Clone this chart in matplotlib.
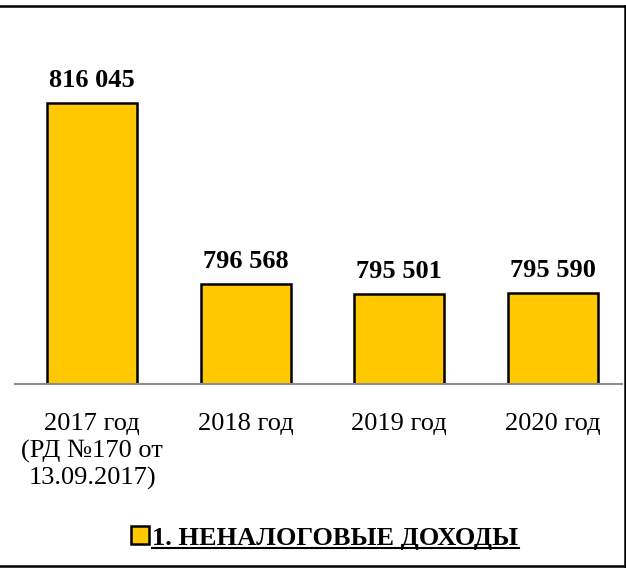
import matplotlib.pyplot as plt
from matplotlib.lines import Line2D

# Данные
categories = ['2017 год\n(РД №170 от\n13.09.2017)', '2018 год', '2019 год', '2020 год']
values = [816045, 796568, 795501, 795590]
value_labels = ['816 045', '796 568', '795 501', '795 590']
series_name = '1. НЕНАЛОГОВЫЕ ДОХОДЫ'

plt.rcParams['font.family'] = ['Liberation Serif', 'DejaVu Serif']

fig = plt.figure(figsize=(6.26, 5.69), dpi=100)
ax = fig.add_axes([15 / 626, 185 / 569, 607 / 626, 364 / 569])

ymin = 785800
x = range(len(values))
bars = ax.bar(x, [v - ymin for v in values], bottom=ymin, width=0.585,
              color='#FFC800', edgecolor='black', linewidth=1.8,
              label=series_name, zorder=2)

ax.set_ylim(ymin, 825000)
ax.set_xlim(-0.501, 3.449)

for xi, v, lab in zip(x, values, value_labels):
    ax.annotate(lab, (xi, v), xytext=(0, 8), textcoords='offset points',
                ha='center', va='bottom', fontsize=19, fontweight='bold')

ax.set_xticks(list(x))
ax.set_xticklabels(categories, fontsize=19, linespacing=1.25)
ax.tick_params(axis='x', length=0, pad=21)
ax.set_yticks([])
for s in ['top', 'right', 'left']:
    ax.spines[s].set_visible(False)
ax.spines['bottom'].set_color('#8c8c8c')
ax.spines['bottom'].set_linewidth(1.5)

leg = fig.legend(handles=[bars], labels=[series_name], loc='center',
                 bbox_to_anchor=(325 / 626, 1 - 538 / 569), frameon=False,
                 handlelength=0.65, handleheight=0.65, handletextpad=0.15,
                 prop={'size': 19, 'weight': 'bold'})

# рамка вокруг рисунка
fig.add_artist(Line2D([0, 624.5 / 626], [1 - 6 / 569, 1 - 6 / 569], color='black', lw=1.8))
fig.add_artist(Line2D([0, 624.5 / 626], [1 - 566 / 569, 1 - 566 / 569], color='black', lw=1.8))
fig.add_artist(Line2D([624.5 / 626, 624.5 / 626], [1 - 6 / 569, 1 - 566 / 569], color='black', lw=1.8))

# подчёркивание текста легенды
fig.canvas.draw()
bb = leg.get_texts()[0].get_window_extent().transformed(fig.transFigure.inverted())
fig.add_artist(Line2D([bb.x0, bb.x1], [bb.y0 + 0.002, bb.y0 + 0.002], color='black', lw=1.5))

plt.savefig('out.png', dpi=100)
